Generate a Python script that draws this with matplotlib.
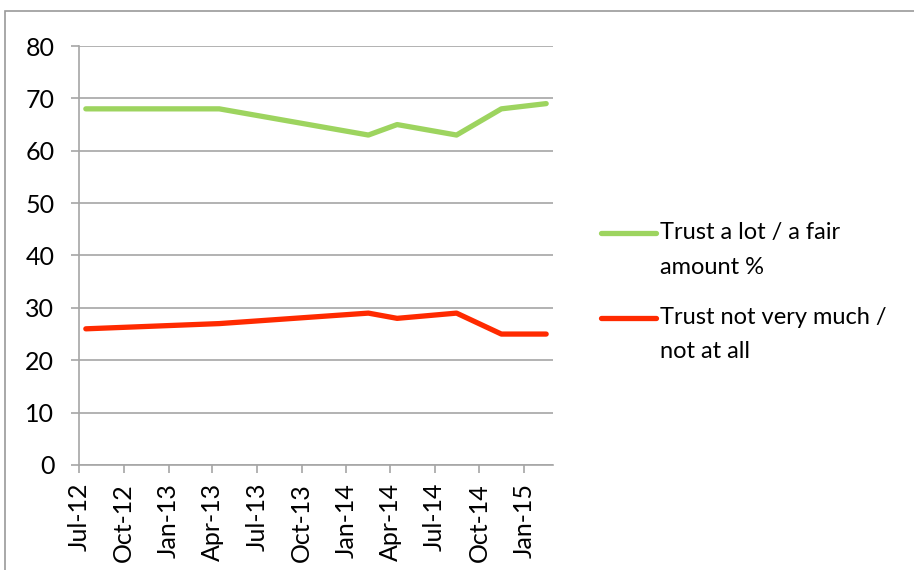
import matplotlib
matplotlib.use("Agg")
import matplotlib.pyplot as plt
from matplotlib.lines import Line2D
from matplotlib.patches import Rectangle
import datetime as dt

plt.rcParams['font.family'] = ['Lato', 'DejaVu Sans']

# Survey waves and results (%)
survey_dates = ["2012-07-15", "2013-04-15", "2014-02-15", "2014-04-15",
                "2014-08-15", "2014-11-15", "2015-02-15"]
trust_high = [68, 68, 63, 65, 63, 68, 69]
trust_low = [26, 27, 29, 28, 29, 25, 25]

series_labels = ["Trust a lot / a fair\namount %", "Trust not very much /\nnot at all"]
series_colors = ["#9DD45F", "#FF2A00"]

tick_dates = ["2012-07-01", "2012-10-01", "2013-01-01", "2013-04-01", "2013-07-01",
              "2013-10-01", "2014-01-01", "2014-04-01", "2014-07-01", "2014-10-01",
              "2015-01-01"]
tick_labels = ["Jul-12", "Oct-12", "Jan-13", "Apr-13", "Jul-13", "Oct-13",
               "Jan-14", "Apr-14", "Jul-14", "Oct-14", "Jan-15"]
y_ticks = [0, 10, 20, 30, 40, 50, 60, 70, 80]

W, H = 914, 570
fig = plt.figure(figsize=(W / 100, H / 100), dpi=100)
ax = fig.add_axes([79 / W, (H - 465) / H, (553 - 79) / W, (465 - 46) / H])

to_date = lambda s: dt.datetime.strptime(s, "%Y-%m-%d")
xs = [to_date(s) for s in survey_dates]

for vals, col in zip([trust_high, trust_low], series_colors):
    ax.plot(xs, vals, color=col, lw=3.8, solid_capstyle='round',
            solid_joinstyle='round', zorder=3)

grid_col = "#A6A6A6"
ax.set_xlim(to_date("2012-07-01"), to_date("2015-03-01"))
ax.set_ylim(0, 80)
ax.set_yticks(y_ticks)
ax.set_xticks([to_date(s) for s in tick_dates])
ax.set_xticklabels(tick_labels, rotation=90)
ax.yaxis.grid(True, color=grid_col, lw=1.2)
ax.set_axisbelow(True)
for side in ["top", "right"]:
    ax.spines[side].set_visible(False)
for side in ["left", "bottom"]:
    ax.spines[side].set_color(grid_col)
    ax.spines[side].set_linewidth(1.2)
ax.tick_params(axis='y', length=5.8, width=1.2, color=grid_col, pad=12,
               labelsize=18, labelcolor='black')
ax.tick_params(axis='x', length=5.8, width=1.2, color=grid_col, pad=7,
               labelsize=18, labelcolor='black')

# legend drawn at the right of the plot area
legend_rows = [233, 318]
for lab, col, ypx in zip(series_labels, series_colors, legend_rows):
    yf = (H - ypx) / H
    fig.add_artist(Line2D([601 / W, 656 / W], [yf, yf], color=col, lw=3.8,
                          solid_capstyle='round', transform=fig.transFigure))
    first, second = lab.split("\n")
    fig.text(660 / W, yf, first, fontsize=17, va='center', ha='left')
    fig.text(660 / W, (H - ypx - 34) / H, second, fontsize=17, va='center', ha='left')

# chart frame (top and left edges)
fig.add_artist(Rectangle((5 / W, -0.2), 1.5, (H - 11) / H + 0.2, fill=False,
                         edgecolor="#9A9A9A", lw=1.2, transform=fig.transFigure))

fig.savefig("out.png", dpi=100, facecolor="white")
